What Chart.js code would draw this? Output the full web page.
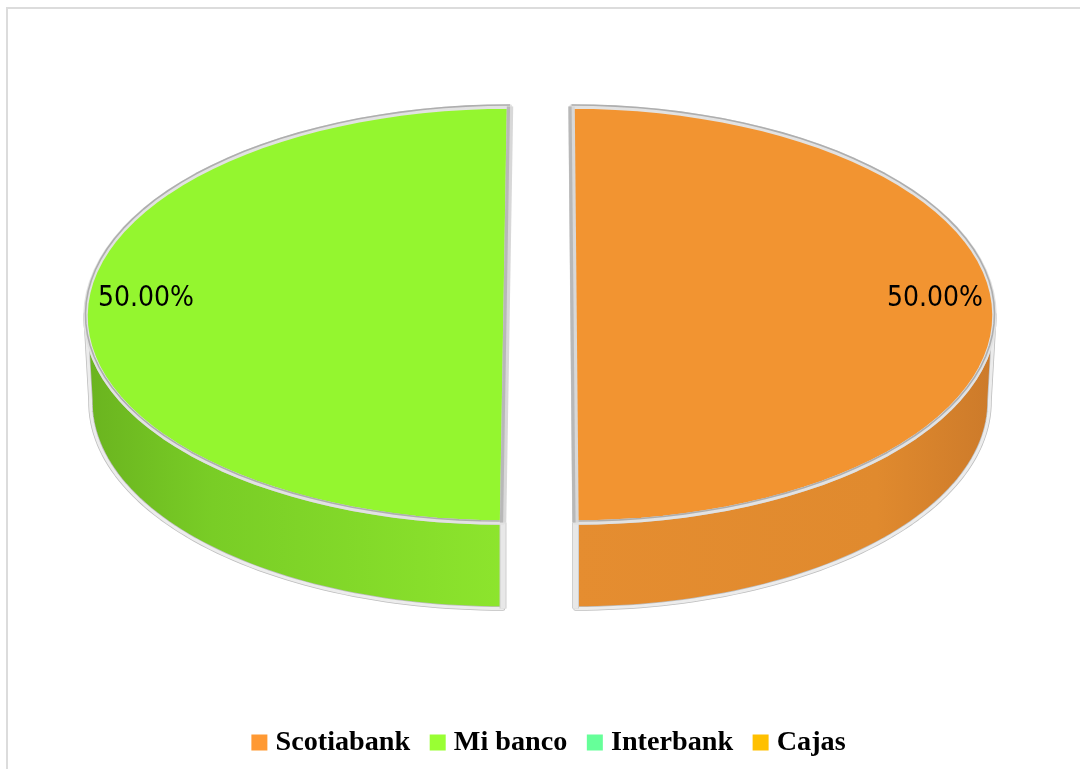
<!DOCTYPE html>
<html>
<head>
<meta charset="utf-8">
<title>Bancos</title>
<script src="https://cdn.jsdelivr.net/npm/chart.js@4"></script>
<style>
    html, body { margin: 0; padding: 0; background: #fff; overflow: hidden; }
    #wrap { position: relative; width: 1080px; height: 769px; }
    #frame { position: absolute; left: 6px; top: 7px; width: 1090px; height: 790px; border: 2px solid #dcdcdc; }
    canvas { position: absolute; left: 0; top: 0; }
</style>
</head>
<body>
<div id="wrap">
    <div id="frame"></div>
    <canvas id="pie" width="1080" height="769"></canvas>
</div>
<script>
const categories = ['Scotiabank', 'Mi banco', 'Interbank', 'Cajas'];
const shares = [50, 50, 0, 0];
const sliceColors = ['#f29431', '#94f62f', '#66ff99', '#ffc000'];
const legendColors = ['#ff9933', '#99ff33', '#66ff99', '#ffc000'];

// fake 3D: top face ellipse and wall depth, in page pixels
const CY = 314.5, RX = 421, RY = 208, DEPTH = 86, RX_BOTTOM = 416;
const rightFace = { cx: 573.5, shear: 0.0095, wall: ['#e58d30', '#e08a2e', '#cc7a2a'], mid: 0.72, labelX: 935 };
const leftFace = { cx: 506.5, shear: -0.0167, wall: ['#6ab31f', '#79cd26', '#8de52d'], mid: 0.3, labelX: 146 };

function project(face, angle, depth, rx) {
    const s = Math.sin(angle);
    return [face.cx + Math.cos(angle) * rx + face.shear * s * RY, CY + depth + s * RY];
}

function traceRim(ctx, face, from, to, depth, rx) {
    for (let i = 0; i <= 60; i++) {
        const p = project(face, from + (to - from) * i / 60, depth, rx);
        ctx.lineTo(p[0], p[1]);
    }
}

function strokeEdge(ctx, a, b, dx, color, width) {
    ctx.beginPath();
    ctx.moveTo(a[0] + dx, a[1]);
    ctx.lineTo(b[0] + dx, b[1]);
    ctx.strokeStyle = color;
    ctx.lineWidth = width;
    ctx.stroke();
}

function drawWall(ctx, face, arc) {
    const from = Math.max(arc.startAngle, 0);
    const to = Math.min(arc.endAngle, Math.PI);
    if (to <= from) return;
    ctx.beginPath();
    traceRim(ctx, face, from, to, 0, RX);
    traceRim(ctx, face, to, from, DEPTH, RX_BOTTOM);
    ctx.closePath();
    const left = face.cx - (from > 1 ? RX : 0);
    const grad = ctx.createLinearGradient(left, 0, left + RX, 0);
    grad.addColorStop(0, face.wall[0]);
    grad.addColorStop(face.mid, face.wall[1]);
    grad.addColorStop(1, face.wall[2]);
    ctx.fillStyle = grad;
    ctx.fill();
    ctx.lineJoin = 'round';
    ctx.strokeStyle = '#bdbdbd';
    ctx.lineWidth = 4.5;
    ctx.stroke();
    ctx.strokeStyle = '#ececec';
    ctx.lineWidth = 3;
    ctx.stroke();

    // the cut side of the slice, seen as a pale strip
    const a = project(face, Math.PI / 2, 0, RX);
    const b = project(face, Math.PI / 2, DEPTH, RX_BOTTOM);
    strokeEdge(ctx, a, b, 0, '#cfcfcf', 7);
    strokeEdge(ctx, a, b, 0, '#e8e8e8', 5);
}

function drawTop(ctx, face, arc) {
    const R = arc.outerRadius;
    ctx.save();
    ctx.transform(RX / R, 0, face.shear * RY / R, RY / R, face.cx, CY);
    ctx.translate(-arc.x, -arc.y);
    arc.draw(ctx);
    ctx.restore();

    ctx.lineJoin = 'round';
    ctx.beginPath();
    traceRim(ctx, face, arc.startAngle, arc.endAngle, 0, RX);
    ctx.closePath();
    ctx.strokeStyle = '#e2e2e2';
    ctx.lineWidth = 4.5;
    ctx.stroke();

    // darker line sits above the light one: outside at the back, inside at the front
    ctx.beginPath();
    traceRim(ctx, face, arc.startAngle, arc.endAngle, -1.5, RX);
    ctx.strokeStyle = '#aeaeae';
    ctx.lineWidth = 1.6;
    ctx.stroke();

    const a = project(face, arc.startAngle, 0, RX);
    const b = project(face, arc.endAngle, 0, RX);
    strokeEdge(ctx, a, b, 0, '#d8d8d8', 6.5);
    strokeEdge(ctx, a, b, -1.5, '#b8b8b8', 3.2);
}

const pie3d = {
    id: 'pie3d',
    beforeDatasetsDraw(chart) {
        const ctx = chart.ctx;
        const arcs = chart.getDatasetMeta(0).data;
        const total = shares.reduce((a, b) => a + b, 0);
        const shown = arcs.map((arc, i) => ({
            arc: arc,
            value: shares[i],
            face: Math.cos((arc.startAngle + arc.endAngle) / 2) > 0 ? rightFace : leftFace
        })).filter(s => s.value > 0);

        shown.forEach(s => drawWall(ctx, s.face, s.arc));
        shown.forEach(s => drawTop(ctx, s.face, s.arc));

        ctx.fillStyle = '#000';
        ctx.font = '27.5px "DejaVu Sans"';
        ctx.textAlign = 'center';
        ctx.textBaseline = 'middle';
        shown.forEach(s => {
            ctx.fillText((s.value / total * 100).toFixed(2) + '%', s.face.labelX, 299, 96);
        });
        return false;
    }
};

new Chart(document.getElementById('pie'), {
    type: 'pie',
    data: {
        labels: categories,
        datasets: [{ data: shares, backgroundColor: sliceColors, borderWidth: 0 }]
    },
    options: {
        responsive: false,
        animation: false,
        layout: { padding: { bottom: 2.5, left: 23, right: 0 } },
        plugins: {
            tooltip: { enabled: false },
            legend: {
                position: 'bottom',
                labels: {
                    font: { family: '"Liberation Serif"', size: 28.2, weight: 'bold' },
                    color: '#000',
                    usePointStyle: true,
                    boxWidth: 4,
                    boxHeight: 16,
                    padding: 25.5,
                    generateLabels: () => categories.map((name, i) => ({
                        text: name,
                        fillStyle: legendColors[i],
                        strokeStyle: legendColors[i],
                        lineWidth: 0,
                        pointStyle: 'rect',
                        index: i
                    }))
                }
            }
        }
    },
    plugins: [pie3d]
});
</script>
</body>
</html>
